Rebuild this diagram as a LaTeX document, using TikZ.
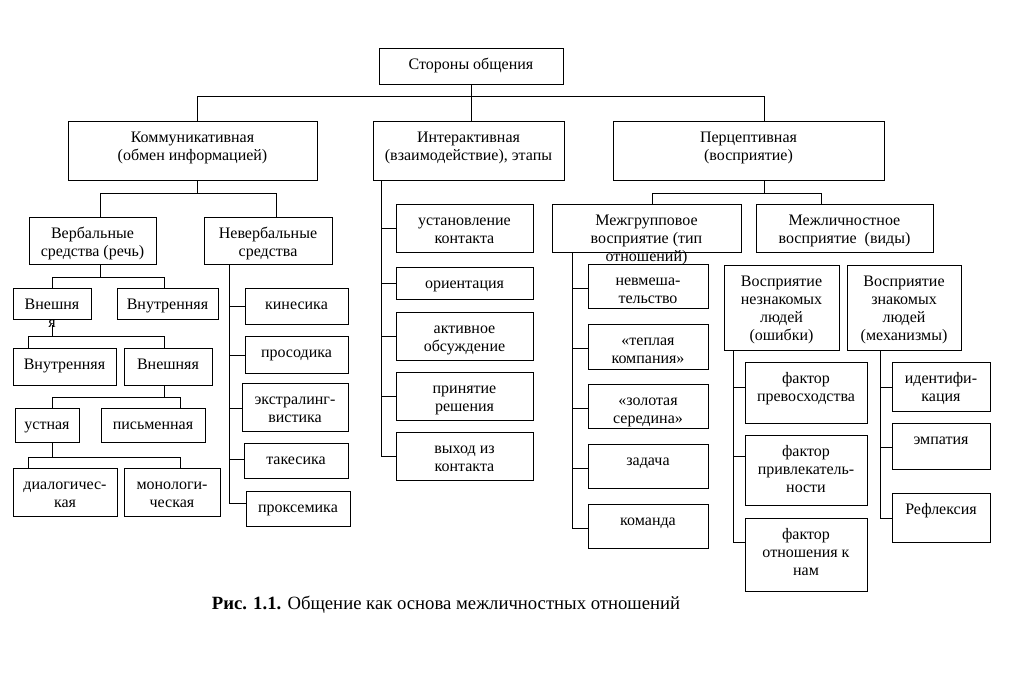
\documentclass[tikz,border=0pt]{standalone}
\usepackage{fontspec}
\setmainfont{Liberation Serif}
\newcommand\boxfont{\fontsize{16}{18}\selectfont}
\newcommand\bx[6]{%
  \node[box] (#1) at (#2,#3) {\parbox[c][\dimexpr #5pt-#3pt\relax][t]{\dimexpr #4pt-#2pt\relax}{\boxfont\centering\rule{0pt}{21.5pt}#6\par}};}
\newcommand\spine[3]{%
  \coordinate (#1-s) at ([xshift=#2pt]#1.south west);
  \foreach \c/\o in {#3} {
    \coordinate (\c-c) at ([yshift=-\o*1pt]\c.north west);
    \draw[conn] (#1-s |- \c-c) -- (\c-c);
    \xdef\lastc{\c}
  }
  \draw[conn] (#1-s) -- (#1-s |- \lastc-c);}
\begin{document}
\begin{tikzpicture}[x=1pt,y=-1pt,
  box/.style={draw,line width=1pt,inner sep=0pt,outer sep=0pt,anchor=north west},
  conn/.style={line width=1pt}]
\fill[white] (0,0) rectangle (1009,697);
\useasboundingbox (0,0) rectangle (1009,697);
\bx{top}{379}{48}{563}{84}{Стороны общения}
\bx{komm}{68}{121}{317}{180}{Коммуникативная\\(обмен информацией)}
\bx{inter}{373}{121}{564}{180}{Интерактивная\\(взаимодействие), этапы}
\bx{perc}{613}{121}{884}{180}{Перцептивная\\(восприятие)}
\bx{verb}{29}{217}{156}{264}{Вербальные\\средства (речь)}
\bx{nonverb}{204}{217}{332}{264}{Невербальные\\средства}
\bx{vnesh1}{13}{288}{91}{319}{Внешня\\я}
\bx{vnutr1}{117}{288}{218}{319}{Внутренняя}
\bx{vnutr2}{13}{348}{116}{385}{Внутренняя}
\bx{vnesh2}{124}{348}{212}{385}{Внешняя}
\bx{ustn}{15}{408}{79}{442}{устная}
\bx{pism}{101}{408}{205}{442}{письменная}
\bx{dial}{13}{468}{117}{516}{диалогичес-\\кая}
\bx{monol}{124}{468}{220}{516}{монологи-\\ческая}
\bx{kines}{245}{288}{348}{324}{кинесика}
\bx{proso}{245}{336}{348}{373}{просодика}
\bx{extra}{242}{383}{348}{431}{экстралинг-\\вистика}
\bx{takes}{244}{443}{348}{478}{такесика}
\bx{proks}{246}{491}{350}{526}{проксемика}
\bx{ustan}{396}{204}{533}{252}{установление\\контакта}
\bx{orient}{396}{267}{533}{299}{ориентация}
\bx{aktiv}{396}{312}{533}{360}{активное\\обсуждение}
\bx{prin}{396}{372}{533}{420}{принятие\\решения}
\bx{vyhod}{396}{432}{533}{480}{выход из\\контакта}
\bx{mezhgr}{552}{204}{741}{252}{Межгрупповое\\восприятие (тип\\отношений)}
\bx{mezhl}{756}{204}{933}{252}{Межличностное\\восприятие~ (виды)}
\bx{nevm}{588}{264}{708}{308}{невмеша-\\тельство}
\bx{tepl}{588}{324}{708}{369}{«теплая\\компания»}
\bx{zolot}{588}{384}{708}{428}{«золотая\\середина»}
\bx{zadacha}{588}{444}{708}{488}{задача}
\bx{komanda}{588}{504}{708}{548}{команда}
\bx{neznak}{724}{265}{839}{350}{Восприятие\\незнакомых\\людей\\(ошибки)}
\bx{znak}{847}{265}{961}{350}{Восприятие\\знакомых\\людей\\(механизмы)}
\bx{prev}{745}{362}{867}{423}{фактор\\превосходства}
\bx{privl}{745}{435}{867}{505}{фактор\\привлекатель-\\ности}
\bx{otnosh}{745}{518}{867}{591}{фактор\\отношения к\\нам}
\bx{ident}{892}{362}{990}{411}{идентифи-\\кация}
\bx{empat}{892}{423}{990}{469}{эмпатия}
\bx{refl}{892}{493}{990}{542}{Рефлексия}
\coordinate (y96) at (0,96);
\coordinate (y193) at (0,193);
\coordinate (y277) at (0,277);
\coordinate (y336) at (0,336);
\coordinate (y397) at (0,397);
\coordinate (y457) at (0,457);
\draw[conn] (top.south) -- (top.south |- inter.north);
\draw[conn] ([xshift=4.5pt]komm.north) |- ([xshift=15.5pt]perc.north |- y96) -- ([xshift=15.5pt]perc.north);
\draw[conn] ([xshift=4.5pt]komm.south) -- ([xshift=4.5pt]komm.south |- y193);
\draw[conn] ([xshift=7.5pt]verb.north) |- ([xshift=8pt]nonverb.north |- y193) -- ([xshift=8pt]nonverb.north);
\draw[conn] ([xshift=7.5pt]verb.south) -- ([xshift=7.5pt]verb.south |- y277);
\draw[conn] (vnesh1.north) |- ([xshift=-3.5pt]vnutr1.north |- y277) -- ([xshift=-3.5pt]vnutr1.north);
\draw[conn] ([yshift=-6pt]vnesh1.south) -- (vnesh1.south |- y336);
\draw[conn] ([xshift=-36.5pt]vnutr2.north) |- ([xshift=-4pt]vnesh2.north |- y336) -- ([xshift=-4pt]vnesh2.north);
\draw[conn] ([xshift=-4pt]vnesh2.south) -- ([xshift=-4pt]vnesh2.south |- y397);
\draw[conn] ([xshift=5pt]ustn.north) |- ([xshift=27pt]pism.north |- y397) -- ([xshift=27pt]pism.north);
\draw[conn] ([xshift=5pt]ustn.south) -- ([xshift=5pt]ustn.south |- y457);
\draw[conn] ([xshift=-37pt]dial.north) |- ([xshift=8pt]monol.north |- y457) -- ([xshift=8pt]monol.north);
\draw[conn] ([xshift=15.5pt]perc.south) -- ([xshift=15.5pt]perc.south |- y193);
\draw[conn] ([xshift=5.5pt]mezhgr.north) |- ([xshift=-23.5pt]mezhl.north |- y193) -- ([xshift=-23.5pt]mezhl.north);
\spine{nonverb}{25}{kines/18,proso/19,extra/25,takes/16,proks/12}
\spine{inter}{8}{ustan/24,orient/16,aktiv/24,prin/24,vyhod/24}
\spine{mezhgr}{20}{nevm/24,tepl/24,zolot/24,zadacha/24,komanda/24}
\spine{neznak}{9}{prev/25,privl/21,otnosh/24}
\spine{znak}{33}{ident/25,empat/24,refl/25}
\node (cap) at (446,605) {\fontsize{18.7}{22}\selectfont\textbf{Рис. 1.1.} Общение как основа межличностных отношений};
\end{tikzpicture}
\end{document}
